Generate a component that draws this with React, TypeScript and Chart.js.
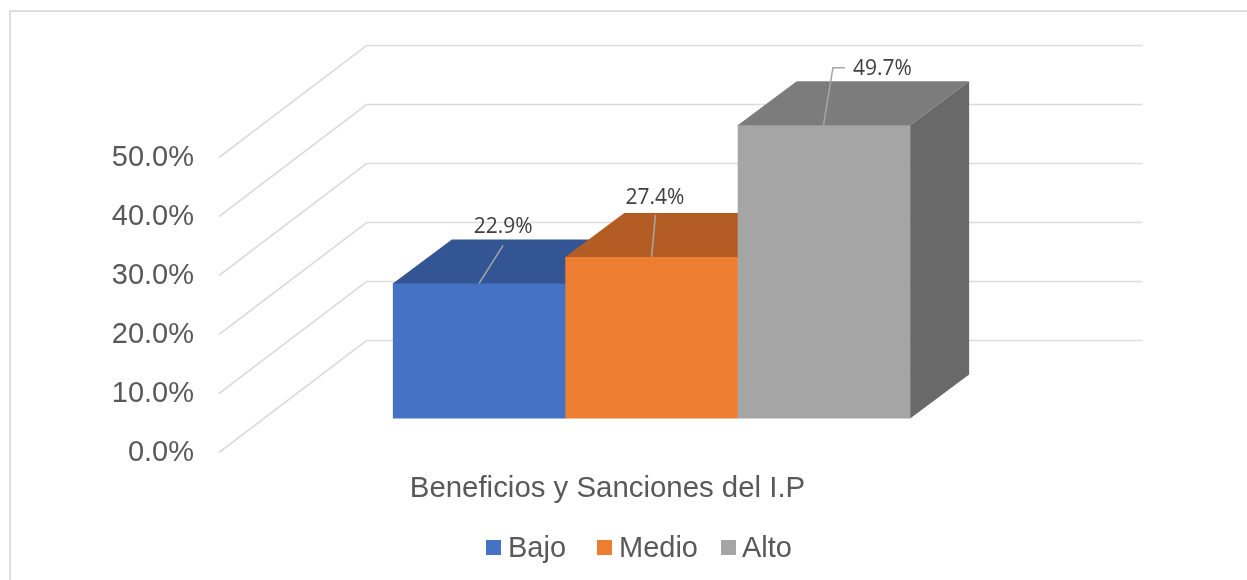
import React, { useEffect, useRef } from "react";
import { Chart, registerables } from "chart.js";

Chart.register(...registerables);

const categories = ["Beneficios y Sanciones del I.P"];
const seriesNames = ["Bajo", "Medio", "Alto"];
const bajo = [22.9];
const medio = [27.4];
const alto = [49.7];
const frontColors = ["#4472C4", "#ED7D31", "#A5A5A5"];
const topColors = ["#335593", "#B35D24", "#7C7C7C"];
const sideColors = ["#264170", "#8A4A1C", "#696969"];
const yTicks = [0, 10, 20, 30, 40, 50];

const DEPTH_BAR_X = 59;
const DEPTH_BAR_Y = 44;
const WALL_X = 147.5;
const WALL_Y = 112;
const WALL_RIGHT = 1142.5;
const FONT = "'Liberation Sans', Arial, sans-serif";
const LABEL_FONT = "'Open Sans', sans-serif";

// leader lines and labels, relative to the front-top centre of each bar
const leaders = [
  { pts: [[0, 0], [24, -38]], label: [24, -57] },
  { pts: [[0, 0], [4, -42]], label: [3.5, -60] },
  { pts: [[-0.5, 0], [9, -57.5], [21, -57.5]], label: [58.5, -57] },
];
const legendLayout = [
  { box: 486, text: 508 },
  { box: 597, text: 619 },
  { box: 721, text: 742 },
];

const depthPlugin = {
  id: "depth3d",
  // Walls and the depth faces go first: the native bars (the front faces) paint over them.
  beforeDatasetsDraw(chart: any) {
    const { ctx } = chart;
    const y = chart.scales.y;
    const left = chart.chartArea.left;
    ctx.save();
    ctx.strokeStyle = "#DCDCDC";
    ctx.lineWidth = 1.6;
    yTicks.forEach((t) => {
      const py = y.getPixelForValue(t);
      ctx.beginPath();
      ctx.moveTo(left, py);
      ctx.lineTo(left + WALL_X, py - WALL_Y);
      ctx.lineTo(WALL_RIGHT, py - WALL_Y);
      ctx.stroke();
    });
    chart.data.datasets.forEach((_: any, i: number) => {
      const el = chart.getDatasetMeta(i).data[0];
      const l = el.x - el.width / 2;
      const r = el.x + el.width / 2;
      ctx.fillStyle = sideColors[i];
      ctx.beginPath();
      ctx.moveTo(r, el.y);
      ctx.lineTo(r + DEPTH_BAR_X, el.y - DEPTH_BAR_Y);
      ctx.lineTo(r + DEPTH_BAR_X, el.base - DEPTH_BAR_Y);
      ctx.lineTo(r, el.base);
      ctx.closePath();
      ctx.fill();
      ctx.fillStyle = topColors[i];
      ctx.beginPath();
      ctx.moveTo(l, el.y + 1);
      ctx.lineTo(l, el.y);
      ctx.lineTo(l + DEPTH_BAR_X, el.y - DEPTH_BAR_Y);
      ctx.lineTo(r + DEPTH_BAR_X, el.y - DEPTH_BAR_Y);
      ctx.lineTo(r, el.y);
      ctx.lineTo(r, el.y + 1);
      ctx.closePath();
      ctx.fill();
    });
    ctx.restore();
  },
  afterDatasetsDraw(chart: any) {
    const { ctx } = chart;
    ctx.save();
    chart.data.datasets.forEach((ds: any, i: number) => {
      const el = chart.getDatasetMeta(i).data[0];
      const lead = leaders[i];
      ctx.strokeStyle = "#A6A6A6";
      ctx.lineWidth = 1.5;
      ctx.beginPath();
      lead.pts.forEach((p, k) => {
        if (k === 0) ctx.moveTo(el.x + p[0], el.y + p[1]);
        else ctx.lineTo(el.x + p[0], el.y + p[1]);
      });
      ctx.stroke();
      ctx.fillStyle = "#404040";
      ctx.font = `21px ${LABEL_FONT}`;
      ctx.textAlign = "center";
      ctx.textBaseline = "middle";
      ctx.fillText(ds.data[0].toFixed(1) + "%", el.x + lead.label[0], el.y + lead.label[1] + 1);
    });
    // legend
    ctx.font = `29px ${FONT}`;
    ctx.textAlign = "left";
    ctx.textBaseline = "middle";
    chart.data.datasets.forEach((ds: any, i: number) => {
      const pos = legendLayout[i];
      ctx.fillStyle = frontColors[i];
      ctx.fillRect(pos.box, 540, 15, 15);
      ctx.fillStyle = "#595959";
      ctx.fillText(ds.label, pos.text, 549);
    });
    ctx.restore();
  },
};

const framePlugin = {
  id: "frame",
  beforeDraw(chart: any) {
    const { ctx } = chart;
    ctx.save();
    ctx.fillStyle = "#FFFFFF";
    ctx.fillRect(0, 0, chart.width, chart.height);
    ctx.restore();
  },
};

export default function App() {
  const ref = useRef<HTMLCanvasElement | null>(null);
  useEffect(() => {
    const values = [bajo, medio, alto];
    const chart = new Chart(ref.current as HTMLCanvasElement, {
      type: "bar",
      data: {
        labels: categories,
        datasets: seriesNames.map((name, i) => ({
          label: name,
          data: values[i],
          backgroundColor: frontColors[i],
          borderWidth: 0,
          yAxisID: "yBar",
          categoryPercentage: 0.598,
          barPercentage: 1,
          clip: false as any,
        })),
      },
      options: {
        responsive: false,
        animation: false,
        devicePixelRatio: 1,
        layout: { padding: { top: 157.5, right: 163, left: 0, bottom: 0 } },
        plugins: { legend: { display: false }, tooltip: { enabled: false }, title: { display: false } },
        scales: {
          x: {
            grid: { display: false },
            border: { display: false },
            afterFit(s: any) {
              s.height = 127.5;
            },
            ticks: {
              color: "#595959",
              font: { family: FONT, size: 29.4 },
              padding: 11,
              labelOffset: -44,
              maxRotation: 0,
            },
          },
          y: {
            position: "left",
            min: 0,
            max: 50,
            grid: { display: false },
            border: { display: false },
            afterFit(s: any) {
              s.width = 219;
            },
            ticks: {
              stepSize: 10,
              color: "#595959",
              font: { family: FONT, size: 29 },
              padding: 17,
              callback: (v: any) => Number(v).toFixed(1) + "%",
            },
          },
          yBar: {
            display: false,
            min: -5.75,
            max: 44.25,
          },
        },
      } as any,
      plugins: [framePlugin, depthPlugin],
    });
    return () => chart.destroy();
  }, []);
  return (
    <div style={{ position: "absolute", left: 0, top: 0, width: 1247, height: 580, overflow: "hidden", background: "#fff" }}>
      <canvas ref={ref} width={1247} height={580} style={{ display: "block", width: 1247, height: 580 }} />
      <div
        style={{
          position: "absolute",
          left: 9,
          top: 10,
          width: 1238,
          height: 570,
          borderTop: "2px solid #DEDEDE",
          borderLeft: "2px solid #DEDEDE",
          boxSizing: "border-box",
          pointerEvents: "none",
        }}
      />
    </div>
  );
}
